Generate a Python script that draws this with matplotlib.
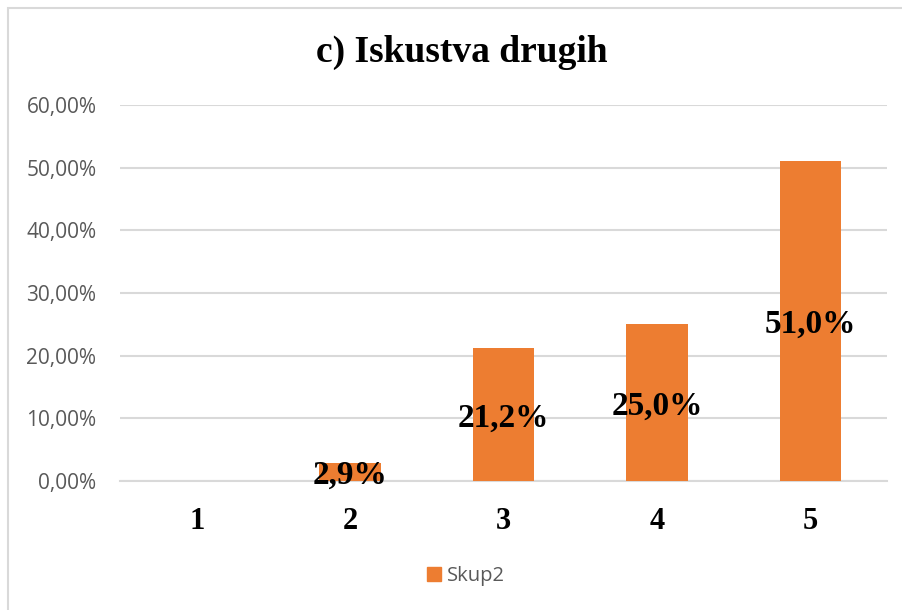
import matplotlib.pyplot as plt
from matplotlib.patches import Rectangle, Patch
from matplotlib.ticker import FuncFormatter

categories = ['1', '2', '3', '4', '5']
values = [0.0, 2.9, 21.2, 25.0, 51.0]
labels = ['', '2,9%', '21,2%', '25,0%', '51,0%']
series_name = 'Skup2'

orange = '#ED7D31'
grid_gray = '#D9D9D9'
text_gray = '#595959'

fig = plt.figure(figsize=(9.03, 6.10), dpi=100)

# chart border (cut off at right and bottom like the original)
fig.patches.append(Rectangle((8 / 903, -0.1), 1.2, 1 - 8 / 610 + 0.1,
                             transform=fig.transFigure, fill=False,
                             edgecolor=grid_gray, linewidth=1.5))

ax = fig.add_axes([120 / 903, 129 / 610, 767 / 903, 376 / 610])
x = list(range(len(categories)))
bars = ax.bar(x, values, width=0.4, color=orange, zorder=3)

for xi, v, lab in zip(x, values, labels):
    if lab:
        ax.text(xi, v / 2, lab, ha='center', va='center_baseline',
                family='Liberation Serif', fontweight='bold', fontsize=24,
                color='black', zorder=4)

ax.set_xlim(-0.5, len(categories) - 0.5)
ax.set_ylim(0, 60)
ax.set_yticks(range(0, 61, 10))
ax.yaxis.set_major_formatter(FuncFormatter(lambda v, p: f'{v:.2f}%'.replace('.', ',')))
ax.set_xticks(x)
ax.set_xticklabels(categories, family='Liberation Serif', fontweight='bold', fontsize=22)
for t in ax.get_yticklabels():
    t.set_family('Open Sans')
    t.set_fontsize(15)
    t.set_color(text_gray)

ax.grid(axis='y', color=grid_gray, linewidth=1.5, zorder=0)
ax.tick_params(axis='both', length=0)
ax.tick_params(axis='y', pad=17)
ax.tick_params(axis='x', pad=19)
for side in ['top', 'right', 'left']:
    ax.spines[side].set_visible(False)
ax.spines['bottom'].set_color(grid_gray)
ax.spines['bottom'].set_linewidth(1.5)

fig.text(462 / 903, 1 - 52 / 610, 'c) Iskustva drugih', ha='center', va='center',
         family='Liberation Serif', fontweight='bold', fontsize=27)

leg = fig.legend(handles=[Patch(color=orange, label=series_name)],
                 loc='center', bbox_to_anchor=(466 / 903, 1 - 576 / 610),
                 frameon=False, handlelength=0.65, handleheight=0.65,
                 handletextpad=0.3, prop={'family': 'Open Sans', 'size': 14.5})
for t in leg.get_texts():
    t.set_color(text_gray)

fig.savefig('out.png', dpi=100)
